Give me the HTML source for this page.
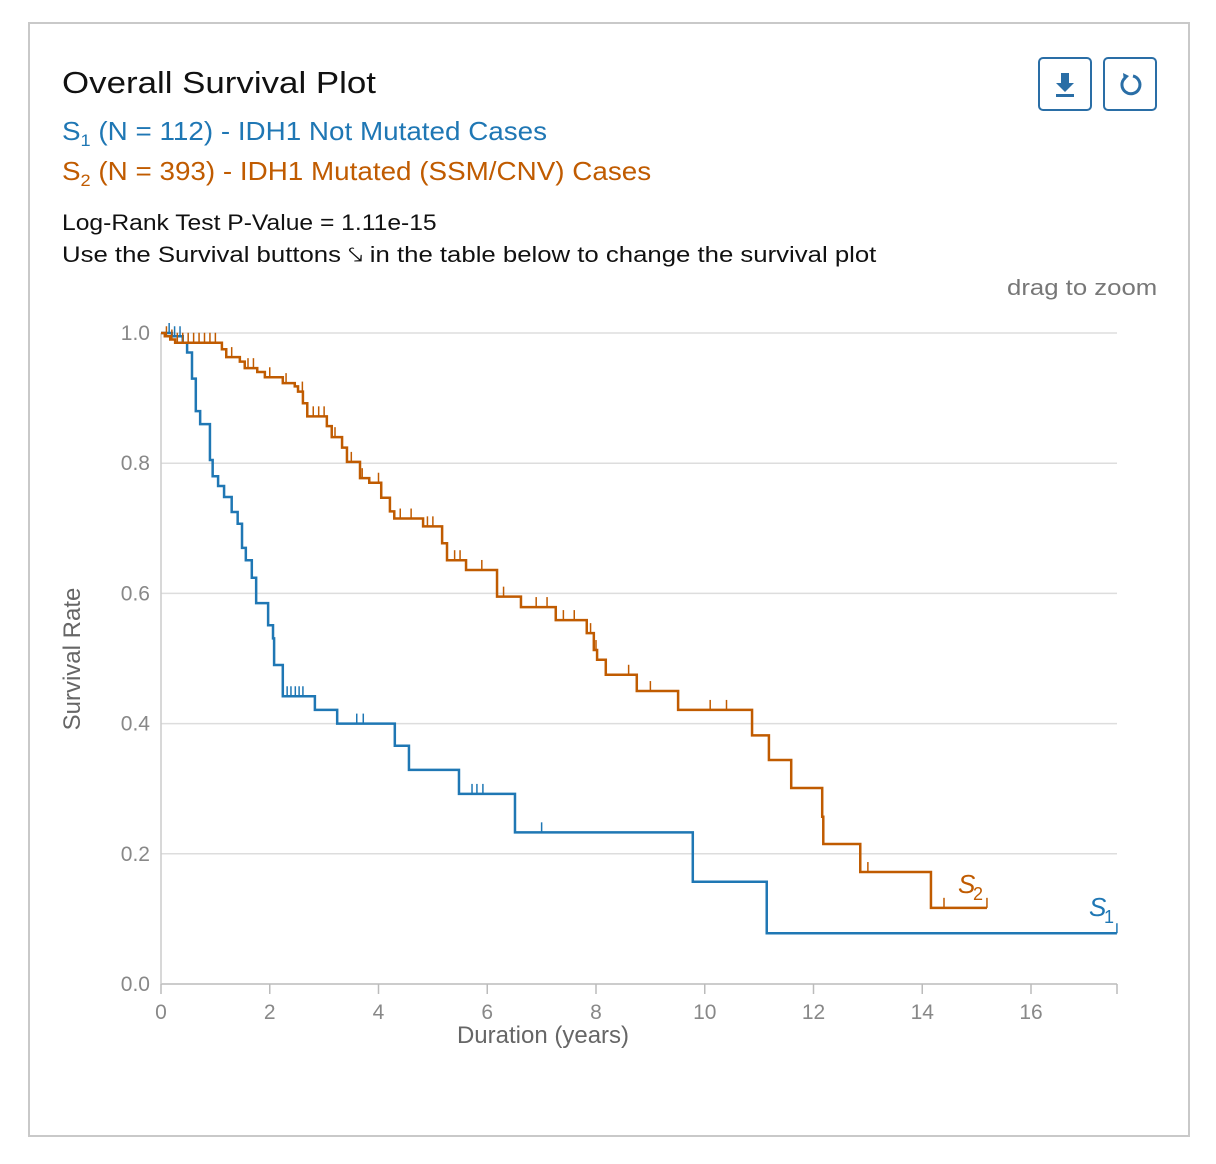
<!DOCTYPE html>
<html><head><meta charset="utf-8"><style>
body{margin:0;width:1216px;height:1164px;background:#fff;font-family:"Liberation Sans",sans-serif;position:relative;overflow:hidden}
.card{position:absolute;left:28px;top:22px;width:1162px;height:1115px;border:2px solid #c9c9c9;box-sizing:border-box}
.t{position:absolute;white-space:nowrap;transform-origin:left top}
.btn{position:absolute;top:57px;width:54px;height:54px;border:2px solid #2a6ea6;border-radius:5px;box-sizing:border-box}
</style></head><body>
<div class="card"></div>
<div class="t" style="left:62px;top:65px;font-size:31px;color:#111;transform:scaleX(1.125)">Overall Survival Plot</div>
<div class="t" style="left:62px;top:116px;font-size:26px;color:#1f77b4;transform:scaleX(1.07)">S<sub style="font-size:17px">1</sub> (N = 112) - IDH1 Not Mutated Cases</div>
<div class="t" style="left:62px;top:156px;font-size:26px;color:#c05b00;transform:scaleX(1.07)">S<sub style="font-size:17px">2</sub> (N = 393) - IDH1 Mutated (SSM/CNV) Cases</div>
<div class="t" style="left:62px;top:210px;font-size:22px;color:#111;transform:scaleX(1.12)">Log-Rank Test P-Value = 1.11e-15</div>
<div class="t" style="left:62px;top:242px;font-size:22px;color:#111;transform:scaleX(1.17)">Use the Survival buttons ⤥ in the table below to change the survival plot</div>
<div class="t" style="left:1007px;top:275px;font-size:22px;color:#777;transform:scaleX(1.17)">drag to zoom</div>
<div class="btn" style="left:1038px"><svg width="50" height="50"><path d="M21 14h8v10h5l-9 9-9-9h5z" fill="#2a6ea6"/><rect x="16" y="35" width="18" height="3" fill="#2a6ea6"/></svg></div>
<div class="btn" style="left:1103px"><svg width="50" height="50"><path d="M20 19a9 9 0 1 0 8-2" fill="none" stroke="#2a6ea6" stroke-width="3"/><path d="M18 14l6 3-5 5z" fill="#2a6ea6"/></svg></div>
<svg id="chart" width="1216" height="1164" style="position:absolute;left:0;top:0"></svg>
<script>
const xTicks=[0,2,4,6,8,10,12,14,16];
const yTicks=[0,0.2,0.4,0.6,0.8,1.0];
const yTickLabels=["0.0","0.2","0.4","0.6","0.8","1.0"];
const s1Times=[0,0.2,0.40,0.48,0.57,0.64,0.72,0.90,0.95,1.05,1.16,1.30,1.41,1.49,1.56,1.67,1.75,1.97,2.06,2.08,2.24,2.83,3.24,4.30,4.56,5.48,6.51,9.78,11.14];
const s1Surv=[1,0.995,0.985,0.97,0.93,0.88,0.86,0.805,0.78,0.765,0.748,0.725,0.707,0.67,0.651,0.624,0.585,0.551,0.531,0.49,0.442,0.421,0.40,0.366,0.329,0.292,0.233,0.157,0.078];
const s1End=17.58;
const s1Censor=[0.15,0.25,0.35,2.32,2.39,2.47,2.54,2.61,2.83,3.6,3.72,4.30,5.72,5.81,5.92,7.0,9.78,11.14,17.58];
const s2Times=[0,0.07,0.17,0.26,1.12,1.20,1.45,1.54,1.77,1.91,2.24,2.46,2.52,2.61,2.69,3.05,3.14,3.33,3.42,3.66,3.83,4.05,4.21,4.29,4.82,5.17,5.26,5.61,6.18,6.62,7.26,7.83,7.96,8.02,8.18,8.75,9.51,10.87,11.18,11.59,12.16,12.18,12.86,14.16];
const s2Surv=[1,0.995,0.99,0.985,0.975,0.963,0.956,0.946,0.94,0.932,0.923,0.918,0.91,0.892,0.872,0.857,0.84,0.824,0.802,0.777,0.77,0.747,0.726,0.715,0.703,0.677,0.651,0.636,0.595,0.579,0.559,0.539,0.513,0.498,0.475,0.45,0.421,0.382,0.344,0.301,0.257,0.215,0.172,0.117];
const s2End=15.19;
const s2Censor=[0.1,0.2,0.3,0.4,0.5,0.6,0.7,0.8,0.9,1.0,1.3,1.6,1.7,2.0,2.3,2.6,2.8,2.9,3.0,3.2,3.5,3.7,4.0,4.4,4.6,4.9,5.0,5.4,5.5,5.9,6.3,6.9,7.1,7.4,7.6,7.9,8.0,8.6,9.0,9.51,10.1,10.4,10.87,11.18,11.59,12.16,12.18,13.0,14.16,14.4,15.19];
const X=t=>161+t*54.375, Y=s=>984-s*651;
const svg=document.getElementById('chart');const NS='http://www.w3.org/2000/svg';
function mk(tag,at,txt){const e=document.createElementNS(NS,tag);for(const k in at)e.setAttribute(k,at[k]);if(txt!=null)e.textContent=txt;svg.appendChild(e);return e;}
yTicks.forEach((v,i)=>{
 const g=mk('line',{x1:161,x2:1117,y1:Y(v),y2:Y(v),stroke:i==0?'#bbb':'#ddd','stroke-width':1.5});
 
 
 const l=mk('text',{x:150,y:Y(v)+7,'text-anchor':'end','font-size':21,fill:'#888'},yTickLabels[i]);
 
 
});
const ax=mk('line',{x1:161,x2:161,y1:Y(1),y2:Y(0),stroke:'#ccc','stroke-width':1.5});


xTicks.forEach(v=>{
 const t=mk('line',{x1:X(v),x2:X(v),y1:984,y2:994,stroke:'#bbb','stroke-width':1.5});
 
 
 const l=mk('text',{x:X(v),y:1019,'text-anchor':'middle','font-size':21,fill:'#888'},String(v));
 
 
});
const xe=mk('line',{x1:1117,x2:1117,y1:984,y2:994,stroke:'#bbb','stroke-width':1.5});


const xt=mk('text',{x:543,y:1043,'text-anchor':'middle','font-size':24,fill:'#666'},'Duration (years)');


const yt=mk('text',{x:80,y:659,'text-anchor':'middle','font-size':24,fill:'#666',transform:'rotate(-90 80 659)'},'Survival Rate');


function survAt(ts,ss,t){let s=ss[0];for(let i=0;i<ts.length;i++)if(ts[i]<=t)s=ss[i];return s;}
function series(ts,ss,end,cens,color,name){
 let d='M'+X(ts[0])+','+Y(ss[0]);
 for(let i=1;i<ts.length;i++)d+='H'+X(ts[i])+'V'+Y(ss[i]);
 d+='H'+X(end);
 const p=mk('path',{d:d,fill:'none',stroke:color,'stroke-width':2.5});
 
 
 cens.forEach(t=>{const s=survAt(ts,ss,t);
  const c=mk('line',{x1:X(t),x2:X(t),y1:Y(s),y2:Y(s)-10,stroke:color,'stroke-width':1.5});
  
  });
}
series(s1Times,s1Surv,s1End,s1Censor,'#1f77b4','s1');
series(s2Times,s2Surv,s2End,s2Censor,'#c05b00','s2');
const l2=mk('text',{x:958,y:893,'font-size':26,'font-style':'italic',fill:'#c05b00'},'S');


const l2s=mk('text',{x:973,y:900,'font-size':18,fill:'#c05b00'},'2');


const l1=mk('text',{x:1089,y:916,'font-size':26,'font-style':'italic',fill:'#1f77b4'},'S');


const l1s=mk('text',{x:1104,y:923,'font-size':18,fill:'#1f77b4'},'1');


</script>
</body></html>
